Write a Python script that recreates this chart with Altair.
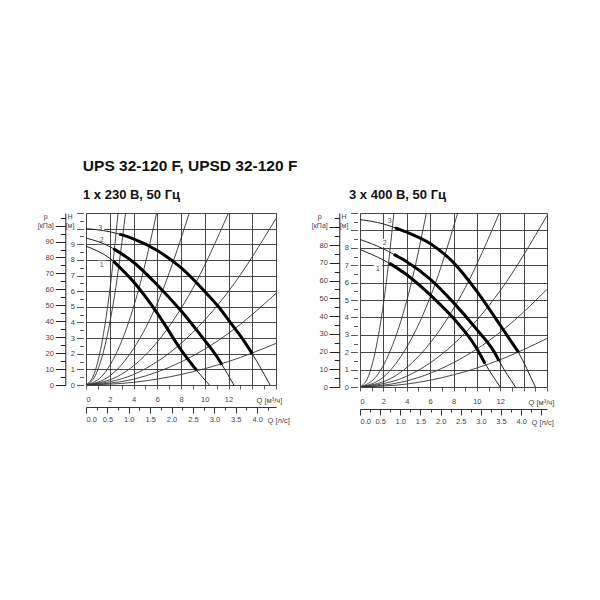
import altair as alt
import pandas as pd

FONT = "Liberation Sans"

# ---------------- data ----------------
# Left chart: 1 x 230 V, 50 Hz   (Q in m3/h, H in m)
L_CURVE_Q = [
    [0, 2, 2.3, 4, 6, 8, 9.3, 10.4],
    [0, 2, 2.3, 4, 6, 8, 9.85, 10.9, 11.45, 12.45],
    [0, 2, 2.8, 4, 6, 8, 9.9, 11.16, 12.15, 13.14, 14, 15.5],
]
L_CURVE_H = [
    [8.88, 8.1, 7.92, 6.6, 4.6, 2.25, 0.95, 0],
    [9.4, 8.85, 8.72, 7.85, 6.4, 4.75, 3.0, 1.95, 1.3, 0],
    [10.0, 9.8, 9.65, 9.35, 8.6, 7.5, 6.06, 5.0, 4.0, 3.0, 2.0, 0],
]
L_THICK_FROM = [2.3, 2.3, 2.8]
L_THICK_TO = [9.3, 11.45, 14.0]
L_SYS_Q = [
    [0, 0.7, 1.4, 2.0, 2.7],
    [0, 0.8, 1.6, 2.4, 3.33],
    [0, 1.5, 3, 4.5, 5.95],
    [0, 2, 4, 6, 8.7],
    [0, 3, 6, 9, 12],
    [0, 4, 8, 12, 16],
    [0, 4, 8, 12, 16],
    [0, 4, 8, 12, 16],
]
L_SYS_H = [
    [0, 0.74, 2.96, 6.04, 11.0],
    [0, 0.63, 2.53, 5.70, 11.0],
    [0, 0.70, 2.80, 6.30, 11.0],
    [0, 0.58, 2.32, 5.22, 11.0],
    [0, 0.69, 2.75, 6.19, 11.0],
    [0, 0.67, 2.66, 5.99, 10.65],
    [0, 0.37, 1.47, 3.30, 5.86],
    [0, 0.17, 0.67, 1.50, 2.66],
]
L_LBL = ["1", "2", "3"]
L_LBL_Q = [1.32, 1.32, 1.19]
L_LBL_H = [7.68, 9.27, 10.06]
L_LPS_MAX = 4.44

# Right chart: 3 x 400 V, 50 Hz
R_CURVE_Q = [
    [0, 2, 2.5, 4, 6, 8, 10, 10.7, 12.0],
    [0, 2, 2.9, 4, 6, 8, 10, 11.5, 11.9, 13.3],
    [0, 2, 3.0, 4, 6, 8, 10, 12, 13.55, 15.0],
]
R_CURVE_H = [
    [7.9, 7.3, 7.12, 6.45, 5.3, 3.95, 2.2, 1.35, 0],
    [8.48, 7.94, 7.62, 7.2, 6.2, 4.85, 3.3, 2.0, 1.5, 0],
    [9.62, 9.37, 9.15, 8.9, 8.25, 7.15, 5.5, 3.55, 2.0, 0],
]
R_THICK_FROM = [2.5, 2.9, 3.0]
R_THICK_TO = [10.7, 11.9, 13.55]
R_SYS_Q = [
    [0, 0.75, 1.5, 2.2, 2.9],
    [0, 1.5, 3, 4.3, 5.68],
    [0, 2, 4, 6.2, 8.36],
    [0, 3, 6, 9, 11.92],
    [0, 4, 8, 12, 16],
    [0, 4, 8, 12, 16],
    [0, 4, 8, 12, 16],
]
R_SYS_H = [
    [0, 0.67, 2.68, 5.76, 10.0],
    [0, 0.70, 2.79, 5.73, 10.0],
    [0, 0.57, 2.29, 5.50, 10.0],
    [0, 0.63, 2.53, 5.70, 10.0],
    [0, 0.62, 2.46, 5.54, 9.86],
    [0, 0.35, 1.40, 3.15, 5.61],
    [0, 0.17, 0.70, 1.57, 2.79],
]
R_LBL = ["1", "2", "3"]
R_LBL_Q = [1.54, 2.11, 2.54]
R_LBL_H = [6.8, 8.28, 9.56]
R_LPS_MAX = 4.64

TITLE = "UPS 32-120 F, UPSD 32-120 F"
L_SUB = "1 x 230 В, 50 Гц"
R_SUB = "3 x 400 В, 50 Гц"
Q_MAX = 16
KPA_PER_M = 9.81


def panel(cq, ch, tf, tt, sq, sh, lbl, lq, lh, hmax, hlab, plab, lps_max,
          w, h, sub, sub_dx, q_title_x, lps_title_x):
    rows = []
    for i, (qs, hs) in enumerate(zip(cq, ch)):
        for q, v in zip(qs, hs):
            rows.append({"Q": q, "H": v, "c": i, "thick": tf[i] <= q <= tt[i]})
    pump = pd.DataFrame(rows)
    srows = []
    for i, (qs, hs) in enumerate(zip(sq, sh)):
        for q, v in zip(qs, hs):
            srows.append({"Q": q, "H": v, "s": i})
    sysdf = pd.DataFrame(srows)
    lbldf = pd.DataFrame({"t": lbl, "Q": lq, "H": lh})

    xaxis = alt.Axis(
        values=list(range(0, Q_MAX + 1)),
        grid=True, gridColor="#333", gridWidth=0.9,
        gridOpacity={"condition": {"test": "datum.value % 2 === 0", "value": 1}, "value": 0},
        domain=False, tickSize=4, tickColor="#333", tickWidth=0.8,
        labelExpr="(datum.value % 2 === 0 && datum.value <= 12) ? datum.label : ''",
        labelFont=FONT, labelFontSize=7.5, labelColor="#444", labelPadding=6,
        title="Q [м³/ч]", titleX=q_title_x, titleY=15, titleAlign="left",
        titleBaseline="middle", titleAngle=0, titleFont=FONT, titleFontSize=7.5,
        titleFontWeight="normal", titleColor="#444",
    )
    hvals = [v / 2 for v in range(0, int(hmax * 2) + 1)]
    yaxis = alt.Axis(
        values=hvals,
        grid=True, gridColor="#333", gridWidth=0.9,
        gridOpacity={"condition": {"test": "datum.value % 1 === 0", "value": 1}, "value": 0},
        domain=False, offset=2.5,
        tickSize={"condition": {"test": "datum.value % 1 === 0", "value": 7}, "value": 4},
        tickColor="#333", tickWidth=0.8,
        labelExpr="(datum.value % 1 === 0 && datum.value <= " + str(hlab) + ") ? format(datum.value, 'd') : ''",
        labelFont=FONT, labelFontSize=7.5, labelColor="#444", labelPadding=2,
        title=["H", "[м]"], titleX=-14, titleY=-1, titleAlign="center",
        titleBaseline="top", titleAngle=0, titleFont=FONT, titleFontSize=7,
        titleFontWeight="normal", titleColor="#444", titleLineHeight=9,
    )
    X = alt.X("Q:Q", scale=alt.Scale(domain=[0, Q_MAX], nice=False, zero=False), axis=xaxis)
    Y = alt.Y("H:Q", scale=alt.Scale(domain=[0, hmax], nice=False, zero=False), axis=yaxis)

    knock = alt.Chart(lbldf).mark_square(color="white", opacity=1, size=70).encode(x=X, y=Y)
    sys_l = alt.Chart(sysdf).mark_line(color="#333", strokeWidth=0.9, interpolate="monotone", clip=True).encode(
        x=X, y=Y, detail="s:N")
    thin = alt.Chart(pump).mark_line(color="#222", strokeWidth=1, interpolate="monotone", clip=True).encode(
        x=X, y=Y, detail="c:N")
    thick = alt.Chart(pump).transform_filter("datum.thick").mark_line(
        color="black", strokeWidth=3, interpolate="monotone", clip=True).encode(x=X, y=Y, detail="c:N")
    txt = alt.Chart(lbldf).mark_text(font=FONT, fontSize=7, color="#555").encode(x=X, y=Y, text="t:N")
    main = alt.layer(knock, sys_l, thin, thick, txt)

    lps_vals = [v / 4 for v in range(0, int(lps_max * 4) + 1)]
    kpa_vals = list(range(0, int(hmax * KPA_PER_M) + 1, 5))
    sec = pd.DataFrame({"lps": [0.0], "kpa": [0.0]})
    sx = alt.X("lps:Q", scale=alt.Scale(domain=[0, lps_max], nice=False, zero=False),
               axis=alt.Axis(
                   orient="bottom", offset=22, values=lps_vals, grid=False,
                   domain=True, domainColor="#333", domainWidth=1,
                   tickSize={"condition": {"test": "datum.value % 0.5 === 0", "value": 6}, "value": 3},
                   tickColor="#333", tickWidth=1,
                   labelExpr="(datum.value % 0.5 === 0 && datum.value <= 4) ? format(datum.value, '.1f') : ''",
                   labelFont=FONT, labelFontSize=7.5, labelColor="#444", labelPadding=2,
                   title="Q [л/с]", titleX=lps_title_x, titleY=13, titleAlign="left",
                   titleBaseline="middle", titleAngle=0, titleFont=FONT, titleFontSize=7.5,
                   titleFontWeight="normal", titleColor="#444"))
    sy = alt.Y("kpa:Q", scale=alt.Scale(domain=[0, hmax * KPA_PER_M], nice=False, zero=False),
               axis=alt.Axis(
                   orient="left", offset=20.7, values=kpa_vals, grid=False,
                   domain=True, domainColor="#222", domainWidth=1,
                   tickSize={"condition": {"test": "datum.value % 10 === 0", "value": 10}, "value": 5},
                   tickColor="#222", tickWidth=1,
                   labelExpr="(datum.value % 10 === 0 && datum.value <= " + str(plab) + ") ? datum.label : ''",
                   labelFont=FONT, labelFontSize=7.5, labelColor="#444", labelPadding=2,
                   title=["p", "[кПа]"], titleX=-20, titleY=-1, titleAlign="center",
                   titleBaseline="top", titleAngle=0, titleFont=FONT, titleFontSize=7,
                   titleFontWeight="normal", titleColor="#444", titleLineHeight=9))
    secl = alt.Chart(sec).mark_point(opacity=0).encode(x=sx, y=sy)

    return alt.layer(main, secl).resolve_scale(x="independent", y="independent").properties(
        width=w, height=h,
        title=alt.TitleParams(sub, anchor="start", frame="group", font=FONT, fontSize=13,
                              fontWeight="bold", color="#111", dx=sub_dx, offset=10.5),
    )


left = panel(L_CURVE_Q, L_CURVE_H, L_THICK_FROM, L_THICK_TO, L_SYS_Q, L_SYS_H,
             L_LBL, L_LBL_Q, L_LBL_H, 11, 9, 90, L_LPS_MAX, 190, 172, L_SUB, -3, 170, 181)
right = panel(R_CURVE_Q, R_CURVE_H, R_THICK_FROM, R_THICK_TO, R_SYS_Q, R_SYS_H,
              R_LBL, R_LBL_Q, R_LBL_H, 10, 8, 80, R_LPS_MAX, 187, 174, R_SUB, -11, 168, 171)

chart = alt.hconcat(left, right, spacing=20).properties(
    title=alt.TitleParams(TITLE, anchor="start", font=FONT, fontSize=15.5, fontWeight="bold",
                          color="#111", dx=46, offset=14),
    padding={"left": 28, "top": 150, "right": 5, "bottom": 5},
).configure_view(stroke="#222", strokeWidth=1).configure(background="white")

chart.save("out.html", embed_options={"renderer": "svg", "actions": False})
